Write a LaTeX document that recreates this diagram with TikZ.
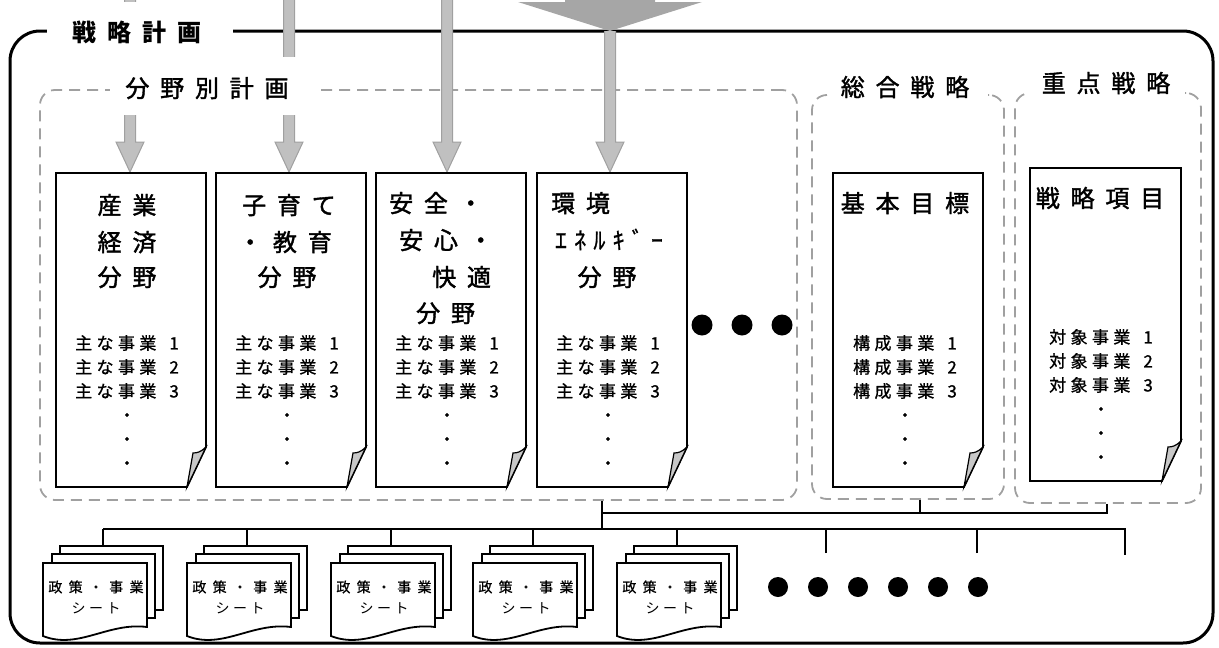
\documentclass[tikz,border=0pt]{standalone}
\usepackage{fontspec}
\setmainfont{Noto Sans CJK JP}
\newfontfamily\jpTitle[LetterSpace=45]{Noto Sans CJK JP}
\newfontfamily\jpHead[LetterSpace=45,FakeBold=1.6]{Noto Sans CJK JP}
\newfontfamily\jpKana[LetterSpace=30,FakeBold=0.8]{Noto Sans CJK JP}
\newfontfamily\jpItem[LetterSpace=26,FakeBold=1.0]{Noto Sans CJK JP}
\newfontfamily\jpSheetA[LetterSpace=45,FakeBold=0.8]{Noto Sans CJK JP}
\newfontfamily\jpSheetB[LetterSpace=25]{Noto Sans CJK JP}
\definecolor{dgray}{HTML}{A0A0A0}
\definecolor{arrowlt}{HTML}{C0C0C0}
\definecolor{arrowdk}{HTML}{A0A0A0}
\definecolor{arrowbg}{HTML}{A6A6A6}
\definecolor{foldgray}{HTML}{C8C8C8}
\tikzset{
  outerbox/.style={line width=3pt, rounded corners=30pt},
  dbox/.style={draw=dgray, line width=1.8pt, dash pattern=on 11pt off 7pt, rounded corners=15pt, inner sep=0pt},
  docline/.style={line width=1.8pt, line join=miter},
  foldline/.style={line width=1.2pt, line join=miter, fill=foldgray},
  bus/.style={line width=1.8pt},
  arrowsmall/.style={fill=arrowlt, draw=arrowdk, line width=1pt},
  arrowbig/.style={fill=arrowbg, draw=none},
  cover/.style={fill=white, draw=none},
  bigtitle/.style={inner sep=0pt, text height=19.7pt, text depth=1.4pt, font=\jpTitle\bfseries\fontsize{24}{28}\selectfont},
  headtxt/.style={inner sep=0pt, text height=19.7pt, text depth=1.4pt, font=\jpHead\fontsize{24}{28}\selectfont},
  kanatxt/.style={inner sep=0pt, text height=19.7pt, text depth=1.4pt, font=\jpKana\fontsize{24}{28}\selectfont},
  itemtxt/.style={inner sep=0pt, text height=13.9pt, text depth=1pt, font=\jpItem\fontsize{17}{20}\selectfont},
  sheettxtA/.style={inner sep=0pt, text height=11.5pt, text depth=0.9pt, font=\jpSheetA\fontsize{14}{17}\selectfont},
  sheettxtB/.style={inner sep=0pt, text height=11.5pt, text depth=0.9pt, font=\jpSheetB\fontsize{14}{17}\selectfont},
  bigdot/.style={fill=black, draw=none}
}
% field document with folded corner: name, L, R, T, B
\newcommand\fdoc[5]{%
  \draw[docline, fill=white] (#2,#4) -- (#3,#4) -- (#3,{#5-40}) -- ({#3-19},#5) -- (#2,#5) -- cycle;
  \draw[foldline] (#3,{#5-40}) .. controls ({#3-5},{#5-35}) and ({#3-9},{#5-34}) .. ({#3-13},{#5-34}) -- ({#3-19},#5) -- cycle;
  \coordinate (#1) at ({(#2+#3)/2},{(#4+#5)/2});
}
% item column: name, cx, y0, label
\newcommand\itemcol[4]{%
  \node[itemtxt] (#1a) at (#2,#3) {#4\hspace{13pt}1};
  \node[itemtxt] (#1b) at (#2,{#3+24}) {#4\hspace{13pt}2};
  \node[itemtxt] (#1c) at (#2,{#3+48}) {#4\hspace{13pt}3};
  \node[itemtxt] (#1d) at (#2,{#3+72}) {・};
  \node[itemtxt] (#1e) at (#2,{#3+96}) {・};
  \node[itemtxt] (#1f) at (#2,{#3+120}) {・};
}
% stacked sheets: name, left x
\newcommand\sheetdoc[2]{%
  \begin{scope}[shift={(#2,0)}]
    \draw[docline, fill=white] (17,546) rectangle (120,610);
    \draw[docline, fill=white] (9,554) rectangle (112,618);
    \draw[docline, fill=white] (0,563) -- (104,563) -- (104,627) .. controls (65,622) and (35,650) .. (0,636) -- cycle;
    \coordinate (#1top) at (60,546);
    \node[sheettxtA] (#1a) at (53,587) {政策・事業};
    \node[sheettxtB] (#1b) at (53,608) {シート};
  \end{scope}
}
\begin{document}
\begin{tikzpicture}[x=1pt,y=-1pt]
\useasboundingbox (0,0) rectangle (1219,648);
% outer frame
\draw[outerbox] (10,31) rectangle (1213,643);
% dashed group boxes
\node[dbox, minimum width=757pt, minimum height=410pt] (fieldbox) at (418.5,295) {};
\node[dbox, minimum width=192pt, minimum height=404pt] (sogobox) at (908,297) {};
\node[dbox, minimum width=186pt, minimum height=410pt] (jutenbox) at (1108,298) {};
% arrows coming from above
\coordinate (a1) at (130,172);
\coordinate (a2) at (289,172);
\coordinate (a3) at (447,172);
\coordinate (a4) at (610,172);
\coordinate (bigtip) at (610,31);
\draw[arrowsmall] (124.5,-5) -- (124.5,142) -- (116,142) -- (a1) -- (144,142) -- (135.5,142) -- (135.5,-5);
\draw[arrowsmall] (283.5,-5) -- (283.5,142) -- (275,142) -- (a2) -- (303,142) -- (294.5,142) -- (294.5,-5);
\draw[arrowsmall] (441.5,-5) -- (441.5,142) -- (433,142) -- (a3) -- (461,142) -- (452.5,142) -- (452.5,-5);
\draw[arrowsmall] (604.5,31) -- (604.5,142) -- (596,142) -- (a4) -- (624,142) -- (615.5,142) -- (615.5,31);
\fill[arrowbig] (565,-10) -- (655,-10) -- (655,2) -- (702,2) -- (bigtip) -- (518,2) -- (565,2) -- cycle;
% label covers
\fill[cover] (47,2) rectangle (233,57);
\fill[cover] (110,57) rectangle (320,115);
\fill[cover] (828,68) rectangle (988,104);
\fill[cover] (1031,62) rectangle (1185,102);
% labels
\node[bigtitle] (ttl) at (137,32) {戦略計画};
\node[headtxt] (fieldlbl) at (207,88) {分野別計画};
\node[headtxt] (sogolbl) at (905,87) {総合戦略};
\node[headtxt] (jutenlbl) at (1106,83) {重点戦略};
% documents
\fdoc{d1}{56}{206}{173}{487}
\fdoc{d2}{216}{366}{173}{487}
\fdoc{d3}{376}{526}{173}{487}
\fdoc{d4}{537}{687}{173}{487}
\fdoc{dk}{833}{983}{173}{487}
\fdoc{ds}{1030}{1181}{168}{481}
% document titles
\node[headtxt] (d1t1) at (127,205) {産業};
\node[headtxt] (d1t2) at (127,242) {経済};
\node[headtxt] (d1t3) at (127,277) {分野};
\node[headtxt] (d2t1) at (289,205) {子育て};
\node[headtxt] (d2t2) at (285,242) {・教育};
\node[headtxt] (d2t3) at (287,277) {分野};
\node[headtxt, anchor=west] (d3t1) at (389,203) {安全・};
\node[headtxt, anchor=west] (d3t2) at (399,240) {安心・};
\node[headtxt, anchor=west] (d3t3) at (432,277) {快適};
\node[headtxt, anchor=west] (d3t4) at (416,313) {分野};
\node[headtxt, anchor=west] (d4t1) at (551,203) {環境};
\node[kanatxt] (d4t2) at (609,240) {ｴﾈﾙｷﾞｰ};
\node[headtxt] (d4t3) at (607,277) {分野};
\node[headtxt] (dkt) at (905,203) {基本目標};
\node[headtxt] (dst) at (1100,198) {戦略項目};
% item lists
\itemcol{d1i}{127}{343}{主な事業}
\itemcol{d2i}{287}{343}{主な事業}
\itemcol{d3i}{447}{343}{主な事業}
\itemcol{d4i}{608}{343}{主な事業}
\itemcol{dki}{905}{343}{構成事業}
\itemcol{dsi}{1101}{337}{対象事業}
% ellipsis dots
\fill[bigdot] (702,325) circle (10.5);
\fill[bigdot] (742,325) circle (10.5);
\fill[bigdot] (782,325) circle (10.5);
% sheets
\sheetdoc{s1}{43}
\sheetdoc{s2}{187}
\sheetdoc{s3}{331}
\sheetdoc{s4}{473}
\sheetdoc{s5}{617}
\foreach \i in {0,...,5} {\fill[bigdot] ({778+40*\i},587) circle (10);}
% bus connectors
\coordinate (ubL) at (602,513);
\coordinate (ubM) at (920,513);
\coordinate (ubR) at (1107,513);
\coordinate (lbJ) at (602,529);
\coordinate (lbR) at (1125,529);
\coordinate (e1) at (826,553);
\coordinate (e2) at (977,553);
\coordinate (e3) at (1125,555);
\draw[bus] (fieldbox.south -| lbJ) -- (lbJ);
\draw[bus] (jutenbox.south -| ubR) -- (ubR) -- (ubL);
\draw[bus] (sogobox.south -| ubM) -- (ubM);
\draw[bus] (s1top |- lbR) -- (lbR) -- (e3);
\draw[bus] (s1top) -- (s1top |- lbR);
\draw[bus] (s2top) -- (s2top |- lbR);
\draw[bus] (s3top) -- (s3top |- lbR);
\draw[bus] (s4top) -- (s4top |- lbR);
\draw[bus] (s5top) -- (s5top |- lbR);
\draw[bus] (e1) -- (e1 |- lbR);
\draw[bus] (e2) -- (e2 |- lbR);
\end{tikzpicture}
\end{document}
